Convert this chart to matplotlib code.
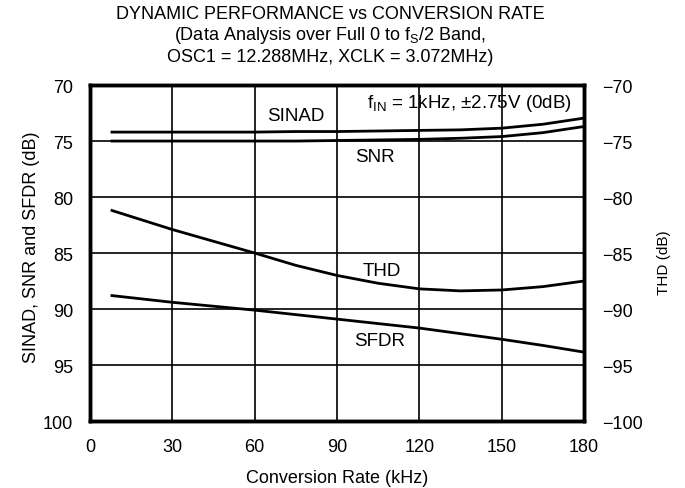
import matplotlib
matplotlib.use("Agg")
import matplotlib.pyplot as plt

plt.rcParams['font.family'] = ['Liberation Sans', 'DejaVu Sans']

# conversion rate (kHz)
rate = [8, 30, 45, 60, 75, 90, 105, 120, 135, 150, 165, 180]

sinad = [74.2, 74.2, 74.2, 74.2, 74.15, 74.15, 74.1, 74.05, 74.0, 73.85, 73.5, 72.95]
snr = [75.0, 75.0, 75.0, 75.0, 75.0, 74.95, 74.9, 74.85, 74.75, 74.6, 74.25, 73.7]
sfdr = [88.8, 89.4, 89.75, 90.1, 90.5, 90.9, 91.3, 91.7, 92.2, 92.7, 93.25, 93.85]
thd = [-81.2, -82.9, -83.95, -85.0, -86.1, -87.0, -87.7, -88.2, -88.38, -88.3, -88.0, -87.5]

x_ticks = [0, 30, 60, 90, 120, 150, 180]
left_ticks = [70, 75, 80, 85, 90, 95, 100]
right_ticks = [-70, -75, -80, -85, -90, -95, -100]
right_labels = ['\u221270', '\u221275', '\u221280', '\u221285', '\u221290', '\u221295', '\u2212100']

fig = plt.figure(figsize=(6.85, 4.89), dpi=100)
ax = fig.add_axes([0.1314, 0.137, 0.7212, 0.687])

ax.plot(rate, sinad, color='black', lw=2.0, zorder=3)
ax.plot(rate, snr, color='black', lw=2.0, zorder=3)
ax.plot(rate, sfdr, color='black', lw=2.0, zorder=3)

ax.set_xlim(0, 180)
ax.set_ylim(100, 70)
ax.set_xticks(x_ticks)
ax.set_yticks(left_ticks)
ax.grid(True, color='black', lw=1.2)
ax.tick_params(length=0, labelsize=13, pad=12)
for s in ax.spines.values():
    s.set_linewidth(2.5)

ax2 = ax.twinx()
ax2.plot(rate, thd, color='black', lw=2.0, zorder=3)
ax2.set_ylim(-100, -70)
ax2.set_yticks(right_ticks)
ax2.set_yticklabels(right_labels)
ax2.tick_params(length=0, labelsize=13, pad=13)
for s in ax2.spines.values():
    s.set_linewidth(2.5)

ax.set_xlabel("Conversion Rate (kHz)", fontsize=13, labelpad=10)
ax.set_ylabel("SINAD, SNR and SFDR (dB)", fontsize=13)
ax.yaxis.set_label_coords(-0.101, 0.52)
ax2.set_ylabel("THD (dB)", fontsize=11)
ax2.yaxis.set_label_coords(1.148, 0.473)

# curve labels
ax.text(75, 72.75, "SINAD", fontsize=13.5, ha='center', va='center')
ax.text(103.8, 76.4, "SNR", fontsize=13.5, ha='center', va='center')
ax.text(106.4, 86.6, "THD", fontsize=13.5, ha='center', va='center')
ax.text(105.6, 92.8, "SFDR", fontsize=13.5, ha='center', va='center')
ax.text(175.6, 71.55, "f$_{\\mathregular{IN}}$ = 1kHz, \u00b12.75V (0dB)",
        fontsize=13.5, ha='right', va='center')

fig.text(0.482, 0.971, "DYNAMIC PERFORMANCE vs CONVERSION RATE", fontsize=13,
         ha='center', va='center')
fig.text(0.482, 0.927, "(Data Analysis over Full 0 to f$_{\\mathregular{S}}$/2 Band,",
         fontsize=13, ha='center', va='center')
fig.text(0.482, 0.883, "OSC1 = 12.288MHz, XCLK = 3.072MHz)", fontsize=13,
         ha='center', va='center')

fig.savefig("out.png", dpi=100)
